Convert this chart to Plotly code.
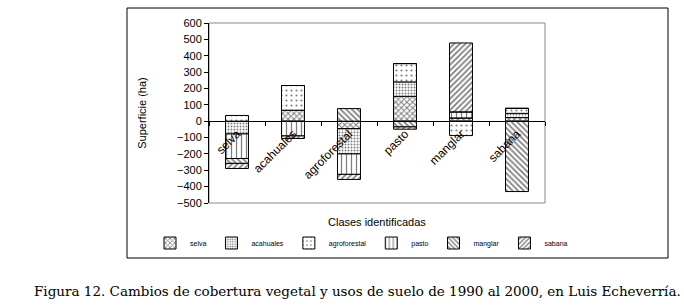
import plotly.graph_objects as go

categories = ["selva", "acahuales", "agroforestal", "pasto", "manglar", "sabana"]
series_names = ["selva", "acahuales", "agroforestal", "pasto", "manglar", "sabana"]

selva_vals = [0, 67, -45, 152, 20, 22]
acahuales_vals = [-78, 0, -155, 88, 0, 26]
agroforestal_vals = [35, 151, 0, 112, -88, 30]
pasto_vals = [-150, -90, -125, 0, 37, 0]
manglar_vals = [-30, 0, 77, -35, 0, -430]
sabana_vals = [-31, -16, -31, -14, 421, 0]

y_ticks = [600, 500, 400, 300, 200, 100, 0, -100, -200, -300, -400, -500]

all_vals = [selva_vals, acahuales_vals, agroforestal_vals, pasto_vals, manglar_vals, sabana_vals]
patterns = [
    dict(shape="x", size=4, solidity=0.45),
    dict(shape=".", size=3, solidity=0.35),
    dict(shape=".", size=5, solidity=0.15),
    dict(shape="|", size=5, solidity=0.25),
    dict(shape="\\", size=4, solidity=0.45),
    dict(shape="/", size=4, solidity=0.45),
]

fig = go.Figure()
for name, vals, pat in zip(series_names, all_vals, patterns):
    fig.add_trace(go.Bar(
        x=categories, y=vals, name=name,
        marker=dict(color="white", line=dict(color="black", width=1),
                    pattern=dict(fgcolor="black", bgcolor="white", **pat)),
    ))

font_sans = "Liberation Sans, Arial, sans-serif"
W, H = 684, 307
L, R, T, B = 209, 545, 23, 203
pw, ph = R - L, B - T

def px(x):
    return (x - L) / pw

def py(y):
    return (B - y) / ph

fig.update_layout(
    width=W, height=H,
    margin=dict(l=L, r=W - R, t=T, b=H - B, pad=0),
    barmode="relative",
    bargap=0.59,
    paper_bgcolor="white", plot_bgcolor="white",
    font=dict(family=font_sans, color="black", size=11),
    showlegend=True,
    legend=dict(orientation="h", x=px(150), xanchor="left", y=py(243), yanchor="middle",
                font=dict(size=7, family=font_sans), itemwidth=30,
                traceorder="normal", bgcolor="rgba(0,0,0,0)"),
    xaxis=dict(anchor="free", position=(0 - (-500)) / 1100, showline=True, linecolor="black",
               linewidth=1, ticks="outside", ticklen=4, tickcolor="black", tickson="boundaries",
               tickangle=-45, tickfont=dict(size=12), showgrid=False, zeroline=False),
    yaxis=dict(range=[-500, 600], tickvals=y_ticks, showline=True, linecolor="black",
               ticks="outside", ticklen=4, tickcolor="black", showgrid=False, zeroline=False,
               tickfont=dict(size=11),
               title=dict(text="Superficie (ha)", font=dict(size=11), standoff=28)),
    shapes=[
        dict(type="rect", xref="paper", yref="paper", x0=0, x1=1, y0=0, y1=1,
             line=dict(color="#8a8a8a", width=1), layer="below"),
        dict(type="rect", xref="paper", yref="paper", x0=px(127), x1=px(668), y0=py(258), y1=py(8),
             line=dict(color="black", width=1), layer="below"),
    ],
    annotations=[
        dict(text="Clases identificadas", xref="paper", yref="paper", x=0.5, y=py(222),
             xanchor="center", yanchor="middle", showarrow=False, font=dict(size=11)),
        dict(text="Figura 12. Cambios de cobertura vegetal y usos de suelo de 1990 al 2000, en Luis Echeverría.",
             xref="paper", yref="paper", x=px(357), y=py(291), xanchor="center", yanchor="middle",
             showarrow=False, font=dict(size=13.5, family="DejaVu Serif, serif")),
    ],
)

fig.write_html("out.html", config={"displayModeBar": False},
               post_script="document.body.style.margin='0';")
